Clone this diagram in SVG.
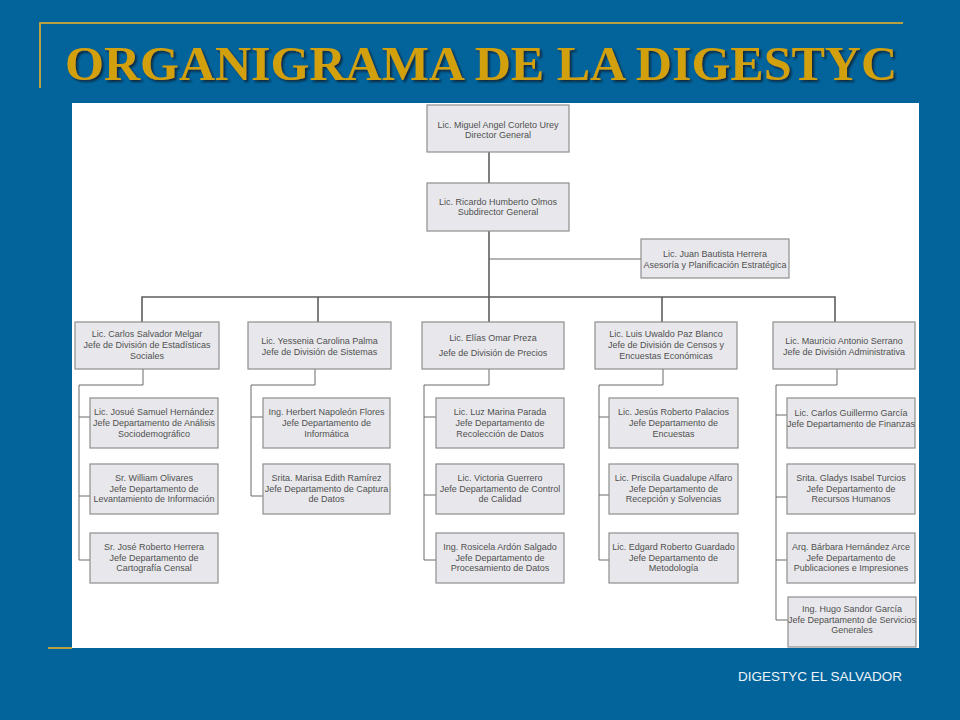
<svg xmlns="http://www.w3.org/2000/svg" width="960" height="720" viewBox="0 0 960 720">
<defs>
<style>
.bx{fill:#E8E8EC;stroke:#8E8E8E;stroke-width:1.2}
.t{font-family:"Liberation Sans",Arial,sans-serif;font-size:9px;fill:#505050;text-anchor:middle}
.c1{fill:none;stroke:#5E5E5E;stroke-width:1.6}
.c2{fill:none;stroke:#6A6A6A;stroke-width:1}
.gold{stroke:#B8A040;stroke-width:2;fill:none}
</style>
<filter id="sh" x="-5%" y="-20%" width="110%" height="150%">
<feDropShadow dx="2" dy="2" stdDeviation="1" flood-color="#0a1a28" flood-opacity="0.8"/>
</filter>
</defs>
<rect x="0" y="0" width="960" height="720" fill="#03649B"/>
<polyline class="gold" points="40,88 40,23 903,23"/>
<line class="gold" x1="48" y1="648" x2="72" y2="648"/>
<text x="481" y="80" font-family="'Liberation Serif','Times New Roman',serif" font-weight="bold" font-size="48" fill="#D3A00F" text-anchor="middle" textLength="832" lengthAdjust="spacingAndGlyphs" filter="url(#sh)">ORGANIGRAMA DE LA DIGESTYC</text>
<rect x="72" y="103" width="847" height="545" fill="#FFFFFF"/>

<g id="connectors">
<polyline class="c1" points="489,152 489,183"/>
<polyline class="c1" points="489,231 489,297"/>
<polyline class="c2" points="489,259 641,259"/>
<polyline class="c1" points="142,322 142,297 835,297 835,322"/>
<line class="c1" x1="318" y1="297" x2="318" y2="322"/>
<line class="c1" x1="489" y1="297" x2="489" y2="322"/>
<line class="c1" x1="662" y1="297" x2="662" y2="322"/>
<polyline class="c2" points="143,369 143,385 79,385 79,560 90,560"/>
<line class="c2" x1="79" y1="417" x2="90" y2="417"/>
<line class="c2" x1="79" y1="496" x2="90" y2="496"/>
<polyline class="c2" points="315,369 315,385 251,385 251,496 263,496"/>
<line class="c2" x1="251" y1="417" x2="263" y2="417"/>
<polyline class="c2" points="489,369 489,385 424,385 424,560 436,560"/>
<line class="c2" x1="424" y1="417" x2="436" y2="417"/>
<line class="c2" x1="424" y1="495" x2="436" y2="495"/>
<polyline class="c2" points="663,369 663,385 599,385 599,560 609,560"/>
<line class="c2" x1="599" y1="417" x2="609" y2="417"/>
<line class="c2" x1="599" y1="495" x2="609" y2="495"/>
<polyline class="c2" points="837,369 837,385 776,385 776,620 788,620"/>
<line class="c2" x1="776" y1="415" x2="787" y2="415"/>
<line class="c2" x1="776" y1="497" x2="787" y2="497"/>
<line class="c2" x1="776" y1="560" x2="787" y2="560"/>
</g>

<g id="director"><rect class="bx" x="427" y="105" width="142" height="47"/>
<text class="t" x="498" y="128">Lic. Miguel Angel Corleto Urey</text><text class="t" x="498" y="137.5">Director General</text></g>
<g id="subdirector"><rect class="bx" x="427" y="183" width="142" height="48"/>
<text class="t" x="498" y="205">Lic. Ricardo Humberto Olmos</text><text class="t" x="498" y="214.5">Subdirector General</text></g>
<g id="asesoria"><rect class="bx" x="641" y="239" width="148" height="39"/>
<text class="t" x="715" y="257">Lic. Juan Bautista Herrera</text><text class="t" x="715" y="268">Asesoría y Planificación Estratégica</text></g>

<g id="div1"><rect class="bx" x="75" y="322" width="144" height="47"/>
<text class="t" x="147" y="336.5">Lic. Carlos Salvador Melgar</text><text class="t" x="147" y="347.5">Jefe de División de Estadísticas</text><text class="t" x="147" y="359">Sociales</text></g>
<g id="div2"><rect class="bx" x="248" y="322" width="143" height="47"/>
<text class="t" x="319.5" y="344">Lic. Yessenia Carolina Palma</text><text class="t" x="319.5" y="355">Jefe de División de Sistemas</text></g>
<g id="div3"><rect class="bx" x="422" y="322" width="142" height="47"/>
<text class="t" x="493" y="341">Lic. Elías Omar Preza</text><text class="t" x="493" y="356">Jefe de División de Precios</text></g>
<g id="div4"><rect class="bx" x="595" y="322" width="142" height="47"/>
<text class="t" x="666" y="337">Lic. Luis Uwaldo Paz Blanco</text><text class="t" x="666" y="348">Jefe de División de Censos y</text><text class="t" x="666" y="358.5">Encuestas Económicas</text></g>
<g id="div5"><rect class="bx" x="773" y="322" width="142" height="47"/>
<text class="t" x="844" y="344">Lic. Mauricio Antonio Serrano</text><text class="t" x="844" y="355">Jefe de División Administrativa</text></g>

<g id="d1a"><rect class="bx" x="90" y="398" width="128" height="50"/>
<text class="t" x="154" y="415">Lic. Josué Samuel Hernández</text><text class="t" x="154" y="426">Jefe Departamento de Análisis</text><text class="t" x="154" y="436.5">Sociodemográfico</text></g>
<g id="d1b"><rect class="bx" x="90" y="464" width="128" height="50"/>
<text class="t" x="154" y="481">Sr. William Olivares</text><text class="t" x="154" y="491.5">Jefe Departamento de</text><text class="t" x="154" y="502">Levantamiento de Información</text></g>
<g id="d1c"><rect class="bx" x="90" y="533" width="128" height="50"/>
<text class="t" x="154" y="550">Sr. José Roberto Herrera</text><text class="t" x="154" y="560.5">Jefe Departamento de</text><text class="t" x="154" y="571">Cartografía Censal</text></g>

<g id="d2a"><rect class="bx" x="263" y="398" width="127" height="50"/>
<text class="t" x="326.5" y="415">Ing. Herbert Napoleón Flores</text><text class="t" x="326.5" y="426">Jefe Departamento de</text><text class="t" x="326.5" y="436.5">Informática</text></g>
<g id="d2b"><rect class="bx" x="263" y="464" width="127" height="50"/>
<text class="t" x="326.5" y="481">Srita. Marisa Edith Ramírez</text><text class="t" x="326.5" y="491.5">Jefe Departamento de Captura</text><text class="t" x="326.5" y="502">de Datos</text></g>

<g id="d3a"><rect class="bx" x="436" y="398" width="128" height="50"/>
<text class="t" x="500" y="415">Lic. Luz Marina Parada</text><text class="t" x="500" y="426">Jefe Departamento de</text><text class="t" x="500" y="436.5">Recolección de Datos</text></g>
<g id="d3b"><rect class="bx" x="436" y="464" width="128" height="50"/>
<text class="t" x="500" y="481">Lic. Victoria Guerrero</text><text class="t" x="500" y="491.5">Jefe Departamento de Control</text><text class="t" x="500" y="502">de Calidad</text></g>
<g id="d3c"><rect class="bx" x="436" y="533" width="128" height="50"/>
<text class="t" x="500" y="550">Ing. Rosicela Ardón Salgado</text><text class="t" x="500" y="560.5">Jefe Departamento de</text><text class="t" x="500" y="571">Procesamiento de Datos</text></g>

<g id="d4a"><rect class="bx" x="609" y="398" width="129" height="50"/>
<text class="t" x="673.5" y="415">Lic. Jesús Roberto Palacios</text><text class="t" x="673.5" y="426">Jefe Departamento de</text><text class="t" x="673.5" y="436.5">Encuestas</text></g>
<g id="d4b"><rect class="bx" x="609" y="464" width="129" height="50"/>
<text class="t" x="673.5" y="481">Lic. Priscila Guadalupe Alfaro</text><text class="t" x="673.5" y="491.5">Jefe Departamento de</text><text class="t" x="673.5" y="502">Recepción y Solvencias</text></g>
<g id="d4c"><rect class="bx" x="609" y="533" width="129" height="50"/>
<text class="t" x="673.5" y="550">Lic. Edgard Roberto Guardado</text><text class="t" x="673.5" y="560.5">Jefe Departamento de</text><text class="t" x="673.5" y="571">Metodología</text></g>

<g id="d5a"><rect class="bx" x="787" y="398" width="128" height="50"/>
<text class="t" x="851" y="416">Lic. Carlos Guillermo García</text><text class="t" x="851" y="426.5">Jefe Departamento de Finanzas</text></g>
<g id="d5b"><rect class="bx" x="787" y="464" width="128" height="50"/>
<text class="t" x="851" y="481">Srita. Gladys Isabel Turcios</text><text class="t" x="851" y="491.5">Jefe Departamento de</text><text class="t" x="851" y="502">Recursos Humanos</text></g>
<g id="d5c"><rect class="bx" x="787" y="533" width="128" height="50"/>
<text class="t" x="851" y="550">Arq. Bárbara Hernández Arce</text><text class="t" x="851" y="560.5">Jefe Departamento de</text><text class="t" x="851" y="571">Publicaciones e Impresiones</text></g>
<g id="d5d"><rect class="bx" x="788" y="597" width="128" height="50"/>
<text class="t" x="852" y="612">Ing. Hugo Sandor García</text><text class="t" x="852" y="622.5">Jefe Departamento de Servicios</text><text class="t" x="852" y="633">Generales</text></g>

<text x="738" y="681" font-family="'Liberation Sans',Arial,sans-serif" font-size="13" fill="#EEF4FA" textLength="164" lengthAdjust="spacingAndGlyphs">DIGESTYC EL SALVADOR</text>
</svg>
